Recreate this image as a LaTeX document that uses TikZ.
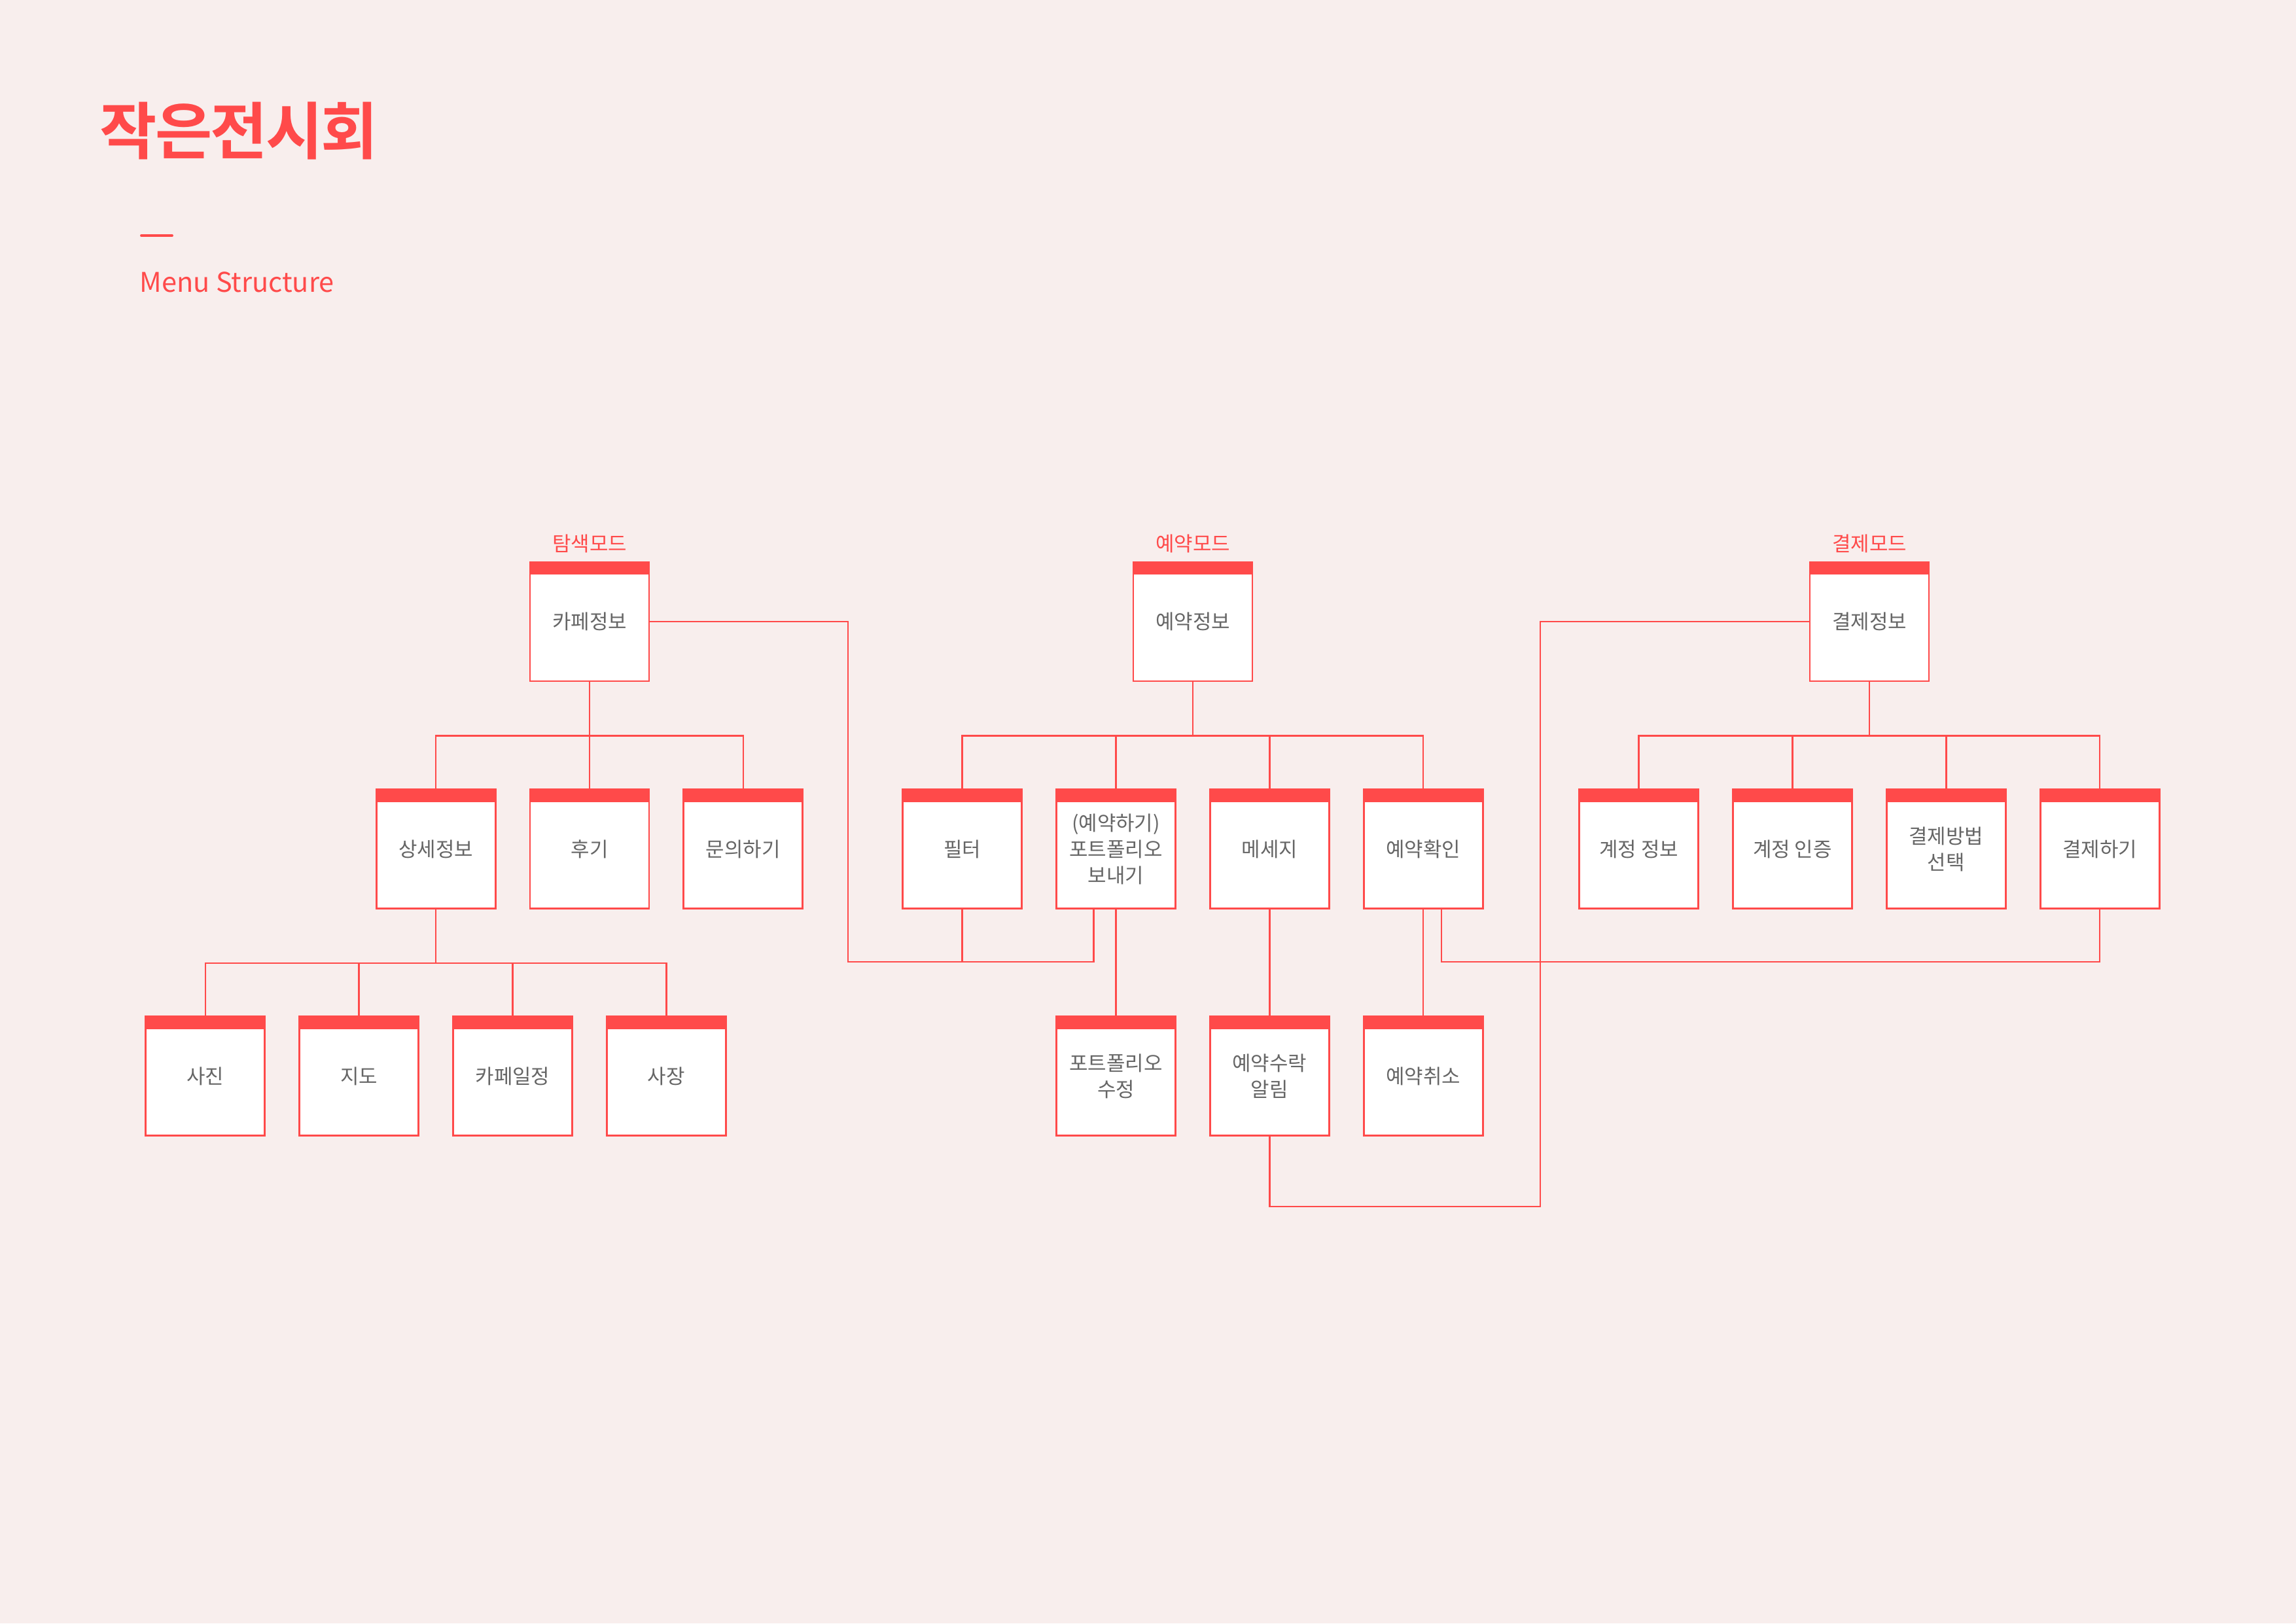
\documentclass[tikz,border=0pt]{standalone}
\usepackage{fontspec}
\setmainfont{Noto Sans CJK KR}
\newfontfamily\titlefont{Noto Sans CJK KR Bold}[LetterSpace=-3]
\usetikzlibrary{positioning, calc}

\definecolor{accent}{RGB}{255,74,74}
\definecolor{paper}{RGB}{248,238,237}
\definecolor{textgray}{RGB}{102,102,102}

\begin{document}
\begin{tikzpicture}[
    node distance=1.63cm and 0.50cm,
    % Styles
    menubox/.style={ % Menu item box with red header bar
        rectangle,
        minimum width=1.82cm,
        minimum height=1.82cm,
        inner sep=0pt,
        draw=accent,
        line width=0.8pt,
        fill=white,
        text=textgray,
        align=center,
        font=\fontsize{8.8}{11.4}\selectfont,
        path picture={
            \fill[accent] (path picture bounding box.north west) rectangle ([yshift=-0.19cm]path picture bounding box.north east);
        }
    },
    modelabel/.style={ % Mode name above a root box
        text=accent,
        inner sep=0pt,
        font=\fontsize{8.8}{11.4}\selectfont
    },
    link/.style={ % Tree connectors
        draw=accent,
        line width=0.7pt
    }
]
    % Page
    \fill[paper] (0,0) rectangle (35.09,-24.81);
    \useasboundingbox (0,0) rectangle (35.09,-24.81);

    % Heading
    \node[anchor=base west, inner sep=0pt, text=accent, font=\titlefont\fontsize{27}{27}\selectfont] (title) at (1.52,-2.35) {작은전시회};
    \draw[accent, line width=1.1pt, line cap=round] (2.16,-3.60) -- (2.63,-3.60);
    \node[anchor=base west, inner sep=0pt, text=accent, font=\fontsize{11.8}{14}\selectfont] (subtitle) at (2.13,-4.46) {Menu Structure};

    % Root boxes
    \node[menubox] (cafe) at (9.01,-9.50) {카페정보};
    \node[menubox] (resv) at (18.23,-9.50) {예약정보};
    \node[menubox] (payinfo) at (28.57,-9.50) {결제정보};

    \node[modelabel, above=0.12cm of cafe] (explore) {탐색모드};
    \node[modelabel, above=0.12cm of resv] (reserve) {예약모드};
    \node[modelabel, above=0.12cm of payinfo] (paymode) {결제모드};

    % Second row
    \node[menubox, below=of cafe] (review) {후기};
    \node[menubox, left=of review] (detail) {상세정보};
    \node[menubox, right=of review] (inquiry) {문의하기};

    \node[menubox, below=of resv, xshift=-1.175cm] (send) {(예약하기)\\포트폴리오\\보내기};
    \node[menubox, left=of send] (filter) {필터};
    \node[menubox, right=of send] (message) {메세지};
    \node[menubox, right=of message] (check) {예약확인};

    \node[menubox, below=of payinfo, xshift=-1.175cm] (auth) {계정 인증};
    \node[menubox, left=of auth] (account) {계정 정보};
    \node[menubox, right=of auth] (method) {결제방법\\선택};
    \node[menubox, right=of method] (dopay) {결제하기};

    % Third row
    \node[menubox, below=1.62cm of detail, xshift=-1.175cm] (map) {지도};
    \node[menubox, left=of map] (photo) {사진};
    \node[menubox, right=of map] (schedule) {카페일정};
    \node[menubox, right=of schedule] (owner) {사장};

    \node[menubox, below=1.62cm of send] (editpf) {포트폴리오\\수정};
    \node[menubox, below=1.62cm of message] (accept) {예약수락\\알림};
    \node[menubox, below=1.62cm of check] (cancel) {예약취소};

    % Tree connectors
    \draw[link] (cafe) -- (review);
    \foreach \child in {detail, inquiry}
        \draw[link] (cafe.south) -- ++(0,-0.82) -| (\child);
    \foreach \child in {photo, map, schedule, owner}
        \draw[link] (detail.south) -- ++(0,-0.82) -| (\child);
    \foreach \child in {filter, send, message, check}
        \draw[link] (resv.south) -- ++(0,-0.82) -| (\child);
    \foreach \child in {account, auth, method, dopay}
        \draw[link] (payinfo.south) -- ++(0,-0.82) -| (\child);
    \draw[link] (send) -- (editpf);
    \draw[link] (message) -- (accept);
    \draw[link] (check) -- (cancel);

    % Cross links between modes
    \coordinate (exploreturn) at (12.96,-14.70);
    \coordinate (payturn) at (23.54,-18.44);
    \draw[link] (cafe.east) -| (exploreturn) -| ([xshift=-0.34cm]send.south);
    \draw[link] (filter) -- (filter |- exploreturn);
    \draw[link] ([xshift=0.28cm]check.south) |- (exploreturn -| dopay) -- (dopay);
    \draw[link] (payinfo.west) -| (payturn) -| (accept);
\end{tikzpicture}
\end{document}
